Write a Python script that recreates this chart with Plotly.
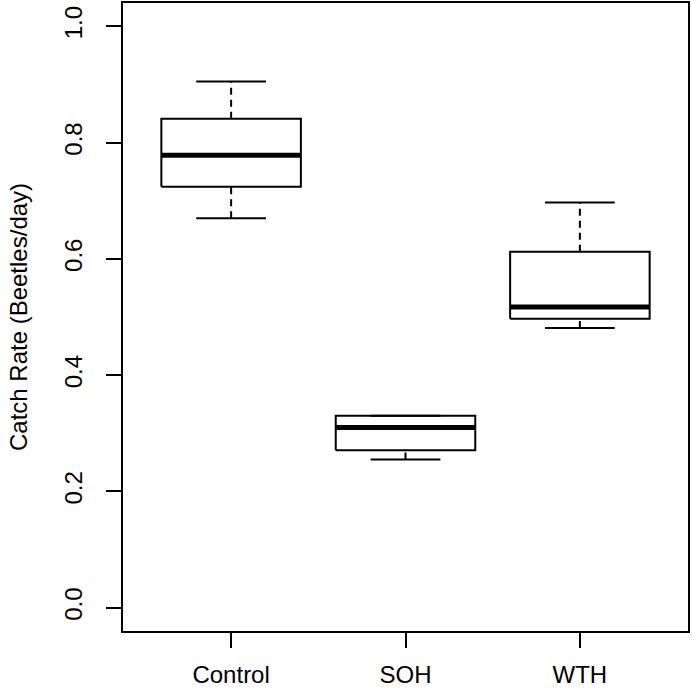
import plotly.graph_objects as go

categories = ["Control", "SOH", "WTH"]
lower_whisker = [0.670, 0.255, 0.481]
q1 = [0.724, 0.271, 0.497]
median = [0.778, 0.310, 0.517]
q3 = [0.841, 0.330, 0.612]
upper_whisker = [0.905, 0.330, 0.697]
y_ticks = [0.0, 0.2, 0.4, 0.6, 0.8, 1.0]

BOX_HALF = 0.4
CAP_HALF = 0.2
LW = 2

fig = go.Figure()
for i, cat in enumerate(categories):
    x = i + 1
    fig.add_trace(go.Scatter(
        x=[x - BOX_HALF, x + BOX_HALF, x + BOX_HALF, x - BOX_HALF, x - BOX_HALF],
        y=[q1[i], q1[i], q3[i], q3[i], q1[i]],
        mode="lines", line=dict(color="black", width=LW), hoverinfo="skip"))
    fig.add_trace(go.Scatter(
        x=[x - BOX_HALF, x + BOX_HALF], y=[median[i], median[i]],
        mode="lines", line=dict(color="black", width=5), hoverinfo="skip"))
    if upper_whisker[i] > q3[i]:
        fig.add_trace(go.Scatter(
            x=[x, x], y=[q3[i], upper_whisker[i]],
            mode="lines", line=dict(color="black", width=LW, dash="7px,5px"), hoverinfo="skip"))
    if lower_whisker[i] < q1[i]:
        fig.add_trace(go.Scatter(
            x=[x, x], y=[lower_whisker[i], q1[i]],
            mode="lines", line=dict(color="black", width=LW, dash="7px,5px"), hoverinfo="skip"))
    for w in (upper_whisker[i], lower_whisker[i]):
        fig.add_trace(go.Scatter(
            x=[x - CAP_HALF, x + CAP_HALF], y=[w, w],
            mode="lines", line=dict(color="black", width=LW), hoverinfo="skip"))

font = dict(family="Liberation Sans, Arial, Helvetica, sans-serif", size=24, color="black")

fig.update_layout(
    width=692, height=692,
    margin=dict(l=123, r=4, t=3, b=61),
    plot_bgcolor="white", paper_bgcolor="white",
    showlegend=False,
    font=font,
    xaxis=dict(
        range=[0.38, 3.62],
        tickvals=[1, 2, 3], ticktext=categories,
        showgrid=False, zeroline=False, automargin=False,
        showline=True, linecolor="black", linewidth=2, mirror=True,
        ticks="outside", ticklen=15, tickwidth=2, tickcolor="black",
        ticklabelstandoff=6,
    ),
    yaxis=dict(
        range=[-0.04, 1.04],
        tickvals=y_ticks, ticktext=[f"{v:.1f}" for v in y_ticks],
        tickangle=-90,
        showgrid=False, zeroline=False, automargin=False,
        showline=True, linecolor="black", linewidth=2, mirror=True,
        ticks="outside", ticklen=15, tickwidth=2, tickcolor="black",
        ticklabelstandoff=14,
        title=dict(text="Catch Rate (Beetles/day)", standoff=26, font=font),
    ),
)

fig.write_html("out.html", config={"displayModeBar": False},
               post_script="document.body.style.margin='0';")
